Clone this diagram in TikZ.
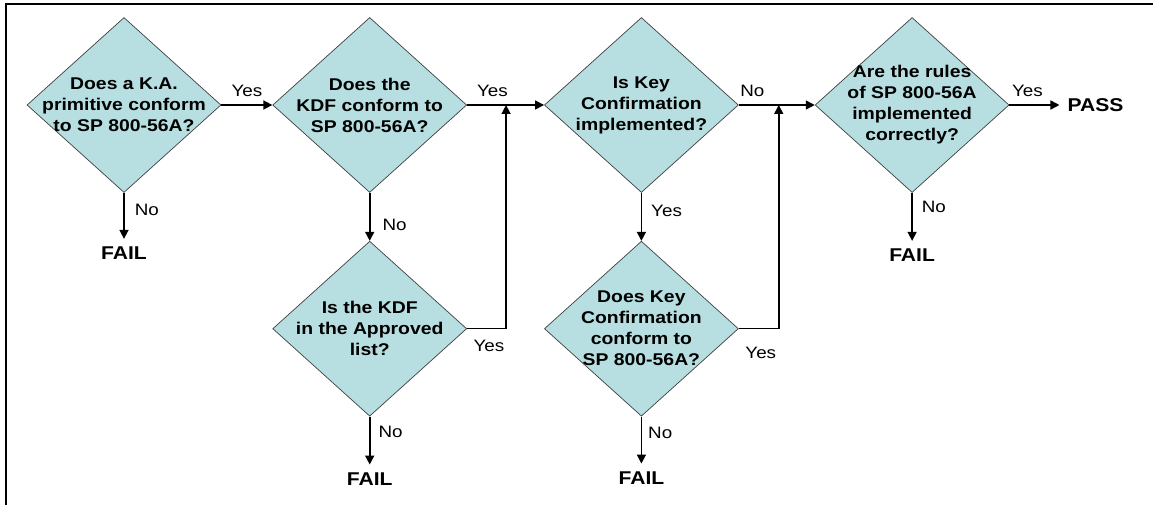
\documentclass[tikz,border=0pt]{standalone}
\usepackage{fontspec}
\setmainfont{Liberation Sans}[FakeStretch=1.14]
\usetikzlibrary{shapes.geometric,arrows.meta,positioning}
\definecolor{testfill}{HTML}{B7DEE0}
\definecolor{testedge}{HTML}{404040}

\begin{document}
\begin{tikzpicture}[x=1pt, y=-1pt,
  test/.style={diamond, draw=testedge, line width=0.7pt, fill=testfill, minimum width=194pt, minimum height=175pt,
    inner xsep=-30pt, inner ysep=-10pt, align=center, font=\fontsize{17}{21}\selectfont\bfseries},
  verdict/.style={inner sep=8pt, font=\fontsize{18.5}{20}\selectfont\bfseries},
  ans/.style={inner sep=1pt, font=\fontsize{16.5}{19}\selectfont},
  flow/.style={line width=1.6pt, -{Triangle[length=9pt,width=9pt]}}
]
\useasboundingbox (0,0) rectangle (1153,505);
\draw[line width=1.6pt] (5.7,505) -- (5.7,4.3) -- (1153,4.3);

% top row of tests
\node[test] (ka) at (124,105) {Does a K.A.\\primitive conform\\to SP 800-56A?};
\node[test, right=51pt of ka] (kdf) {Does the\\KDF conform to\\SP 800-56A?};
\node[test, right=77pt of kdf] (kc) {Is Key\\Confirmation\\implemented?};
\node[test, right=76pt of kc] (rules) {Are the rules\\of SP 800-56A\\implemented\\correctly?};

% second row
\node[test, below=48pt of kdf] (appr) {Is the KDF\\in the Approved\\list?};
\node[test, below=48pt of kc] (kcconf) {Does Key\\Confirmation\\conform to\\SP 800-56A?};

\node[verdict, below=46pt of ka] (fail1) {FAIL};
\node[verdict, below=48pt of appr] (fail2) {FAIL};
\node[verdict, below=47pt of kcconf] (fail3) {FAIL};
\node[verdict, below=48pt of rules] (fail4) {FAIL};
\node[verdict, right=50pt of rules] (pass) {PASS};

\coordinate[right=39pt of appr.east] (j1);
\coordinate[right=40pt of kcconf.east] (j2);

\draw[flow] (ka) -- node[ans, above=7pt] {Yes} (kdf);
\draw[flow] (kdf) -- node[ans, above=7pt, pos=0.33] {Yes} (kc);
\draw[flow] (kc) -- node[ans, above=7pt, pos=0.18] {No} (rules);
\draw[flow] (rules) -- node[ans, above=7pt, pos=0.36] {Yes} (pass);

\draw[flow] (ka) -- node[ans, right=9pt, pos=0.37] {No} (fail1);
\draw[flow] (kdf) -- node[ans, right=11pt, pos=0.67] {No} (appr);
\draw[flow] (kc) -- node[ans, right=8pt, pos=0.38] {Yes} (kcconf);
\draw[flow] (rules) -- node[ans, right=8pt, pos=0.29] {No} (fail4);
\draw[flow] (appr) -- node[ans, right=7pt, pos=0.33] {No} (fail2);
\draw[flow] (kcconf) -- node[ans, right=5pt, pos=0.34] {No} (fail3);

\draw[line width=0.8pt] (appr.east) -- node[ans, below=10pt, pos=0.56] {Yes} (j1);
\draw[flow] (j1) -- (j1 |- kdf.east);
\draw[line width=0.8pt] (kcconf.east) -- node[ans, below=17pt, pos=0.55] {Yes} (j2);
\draw[flow] (j2) -- (j2 |- kc.east);
\end{tikzpicture}
\end{document}
